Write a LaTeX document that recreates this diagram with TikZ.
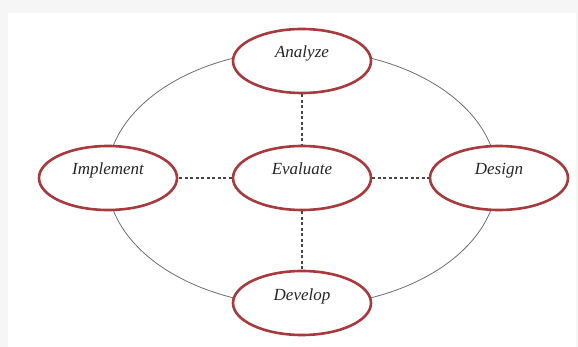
\documentclass[tikz,border=0pt]{standalone}
\usepackage{fontspec}
\setmainfont{Liberation Serif}
\usetikzlibrary{shapes.geometric}
\definecolor{ringred}{RGB}{168,58,62}
\definecolor{bggray}{RGB}{246,246,246}
\definecolor{loopgray}{RGB}{110,110,110}
\definecolor{dashgray}{RGB}{70,70,70}
\tikzset{
  phase/.style={ellipse, draw=ringred, line width=2.6pt, fill=white,
    minimum width=138pt, minimum height=64pt, inner sep=0pt,
    text height=12pt, text depth=18pt,
    font=\fontsize{17}{20}\selectfont\itshape, text=black!85},
  link/.style={draw=dashgray, line width=1.1pt, dash pattern=on 3pt off 2.5pt},
  loop/.style={draw=loopgray, line width=0.8pt}
}
\begin{document}
\begin{tikzpicture}[x=1pt,y=-1pt]
\useasboundingbox (0,0) rectangle (578,347);
\fill[bggray] (0,0) rectangle (578,347);
\fill[white] (8,13) rectangle (576,347);
\draw[loop] (302,178) ellipse [x radius=195, y radius=128];
\node[phase] (analyze)   at (302,61)  {Analyze};
\node[phase] (evaluate)  at (302,178) {Evaluate};
\node[phase] (implement) at (108,178) {Implement};
\node[phase] (design)    at (499,178) {Design};
\node[phase] (develop)   at (302,303) {Develop};
\draw[link] (analyze) -- (evaluate);
\draw[link] (evaluate) -- (implement);
\draw[link] (evaluate) -- (design);
\draw[link] (evaluate) -- (develop);
\end{tikzpicture}
\end{document}
